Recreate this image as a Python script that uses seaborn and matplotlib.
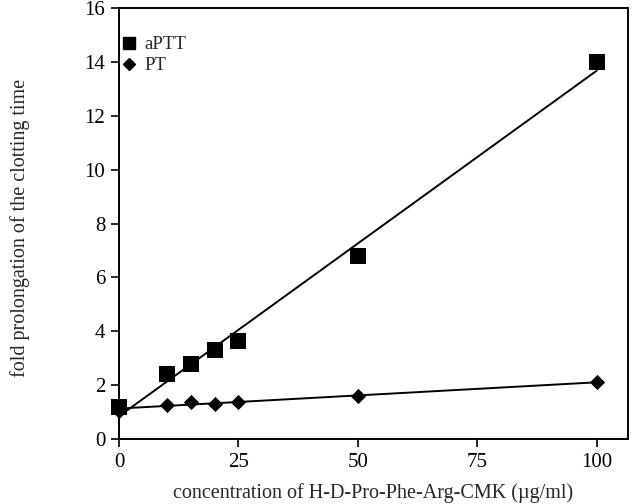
import matplotlib
matplotlib.use('Agg')
import matplotlib.pyplot as plt
from matplotlib.lines import Line2D
import seaborn as sns
import pandas as pd

# concentration (µg/ml) and fold prolongation
conc = [0, 10, 15, 20, 25, 50, 100]
aptt = [1.2, 2.4, 2.8, 3.3, 3.65, 6.8, 14.0]
pt = [1.05, 1.25, 1.38, 1.3, 1.38, 1.6, 2.1]

x_ticks = [0, 25, 50, 75, 100]
y_ticks = [0, 2, 4, 6, 8, 10, 12, 14, 16]

df = pd.DataFrame({'conc': conc, 'aPTT': aptt, 'PT': pt})

sns.set_theme(style='ticks')
plt.rcParams['font.family'] = ['Liberation Serif', 'DejaVu Serif']

fig = plt.figure(figsize=(6.4, 5.04), dpi=100)
ax = fig.add_axes([0.186, 0.129, 0.795, 0.855])

sns.regplot(data=df, x='conc', y='aPTT', ax=ax, ci=None, color='black',
            marker='s', truncate=True,
            scatter_kws={'s': 135, 'alpha': 1, 'zorder': 3,
                         'clip_on': False, 'linewidths': 0},
            line_kws={'lw': 1.4})
sns.regplot(data=df, x='conc', y='PT', ax=ax, ci=None, color='black',
            marker='D', truncate=True,
            scatter_kws={'s': 60, 'alpha': 1, 'zorder': 3,
                         'clip_on': False, 'linewidths': 0},
            line_kws={'lw': 1.4})

ax.set_xlim(0, 106.5)
ax.set_ylim(0, 16)
ax.set_xticks(x_ticks)
ax.set_yticks(y_ticks)
ax.tick_params(direction='out', length=6, width=1.2, pad=4, labelsize=15, colors='black')
for side in ['top', 'right', 'left', 'bottom']:
    ax.spines[side].set_visible(True)
    ax.spines[side].set_linewidth(1.4)
    ax.spines[side].set_color('black')

ax.set_xlabel('concentration of H-D-Pro-Phe-Arg-CMK (\u00b5g/ml)', fontsize=14.5, labelpad=8)
ax.set_ylabel('fold prolongation of the clotting time', fontsize=14.5)
ax.yaxis.set_label_coords(-0.175, 0.49)

handles = [Line2D([], [], ls='none', marker='s', ms=9, color='black'),
           Line2D([], [], ls='none', marker='D', ms=6, color='black')]
ax.legend(handles, ['aPTT', 'PT'], loc='upper left', bbox_to_anchor=(-0.02, 0.965),
          frameon=False, fontsize=13.5, handlelength=0.8, handletextpad=0.4,
          labelspacing=0.2, borderaxespad=0.3)

plt.savefig('out.png', dpi=100)
plt.close()
